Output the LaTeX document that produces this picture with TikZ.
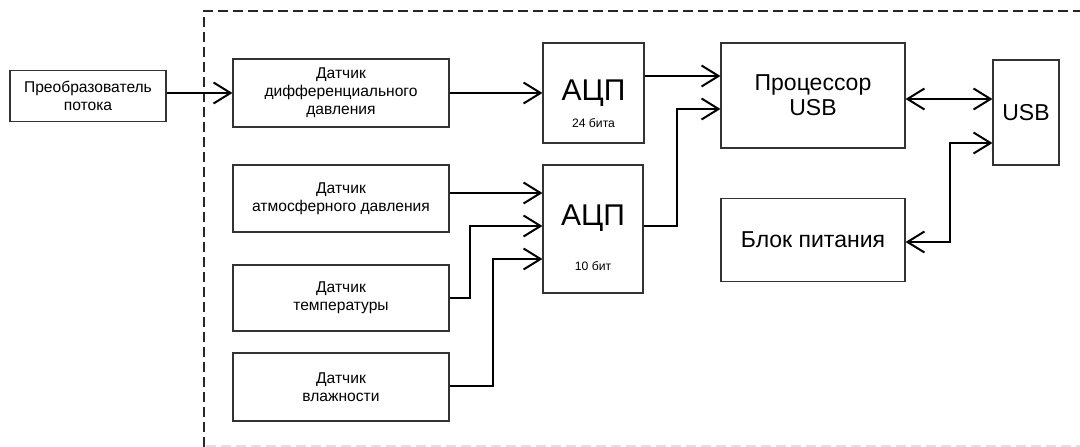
\documentclass[tikz,border=0pt]{standalone}
\usepackage{fontspec}
\setmainfont{Liberation Sans}
\usetikzlibrary{arrows.meta}
\begin{document}
\begin{tikzpicture}[x=1pt,y=-1pt,
  blk/.style={draw=black!80,line width=1.1pt,rectangle,inner sep=0pt,align=center,font=\fontsize{15.6}{18}\selectfont},
  conn/.style={line width=2pt,-{Straight Barb[length=17pt,width=21pt,line width=2pt]}},
  bconn/.style={line width=2pt,{Straight Barb[length=17pt,width=21pt,line width=2pt]}-{Straight Barb[length=17pt,width=21pt,line width=2pt]}},
  big/.style={font=\fontsize{30}{32}\selectfont,inner sep=0pt},
  small/.style={font=\fontsize{12.2}{13}\selectfont,inner sep=0pt},
  mid/.style={font=\fontsize{23}{25}\selectfont}]
\useasboundingbox[fill=white] (0,0) rectangle (1080,447);
% dashed frame
\coordinate (fbl) at (204,447);
\coordinate (ftl) at (204,11);
\coordinate (ftr) at (1080,11);
\coordinate (fbr) at (1080,446);
\coordinate (fbl2) at (206,446);
\draw[line width=2pt,black!85,dash pattern=on 10pt off 5pt] (fbl) -- (ftl) -- (ftr);
\draw[line width=2pt,black!12,dash pattern=on 10pt off 5pt] (fbl2) -- (fbr);
% boxes
\node[blk,minimum width=156pt,minimum height=51pt] (conv) at (88,96) {Преобразователь\\потока};
\node[blk,minimum width=216pt,minimum height=68pt] (diff) at (341,93) {Датчик\\дифференциального\\давления};
\node[blk,minimum width=216pt,minimum height=67pt] (atm) at (341,198.5) {Датчик\\атмосферного давления};
\node[blk,minimum width=216pt,minimum height=66pt] (temp) at (341,298) {Датчик\\температуры};
\node[blk,minimum width=216pt,minimum height=68pt] (hum) at (341,387) {Датчик\\влажности};
\node[blk,minimum width=101pt,minimum height=100pt] (adc1) at (593.5,93) {};
\node[big] (adc1t) at (593.5,93) {АЦП};
\node[small] (adc1b) at (593.5,123) {24 бита};
\node[blk,minimum width=100pt,minimum height=128pt] (adc2) at (593,229) {};
\node[big] (adc2t) at (593,218) {АЦП};
\node[small] (adc2b) at (593,266) {10 бит};
\node[blk,mid,minimum width=184pt,minimum height=105pt] (proc) at (813,95.5) {Процессор\\USB};
\node[blk,mid,minimum width=66pt,minimum height=105pt] (usb) at (1026,112.5) {USB};
\node[blk,mid,minimum width=184pt,minimum height=83pt] (pwr) at (813,240) {Блок питания};
% connectors
\draw[conn] (conv.east |- diff.west) -- (diff.west);
\draw[conn] (diff.east) -- (adc1.west);
\draw[conn] (adc1.east |- 0,76) -- (proc.west |- 0,76);
\draw[conn] (adc2.east |- 0,226) -| (677,109) -- (proc.west |- 0,109);
\draw[conn] (atm.east |- 0,193) -- (adc2.west |- 0,193);
\draw[conn] (temp.east |- 0,298) -| (470,226) -- (adc2.west |- 0,226);
\draw[conn] (hum.east |- 0,386) -| (493,259) -- (adc2.west |- 0,259);
\draw[bconn] (proc.east |- 0,99) -- (usb.west |- 0,99);
\draw[bconn] (usb.west |- 0,143) -| (950,242) -- (pwr.east |- 0,242);
\end{tikzpicture}
\end{document}
